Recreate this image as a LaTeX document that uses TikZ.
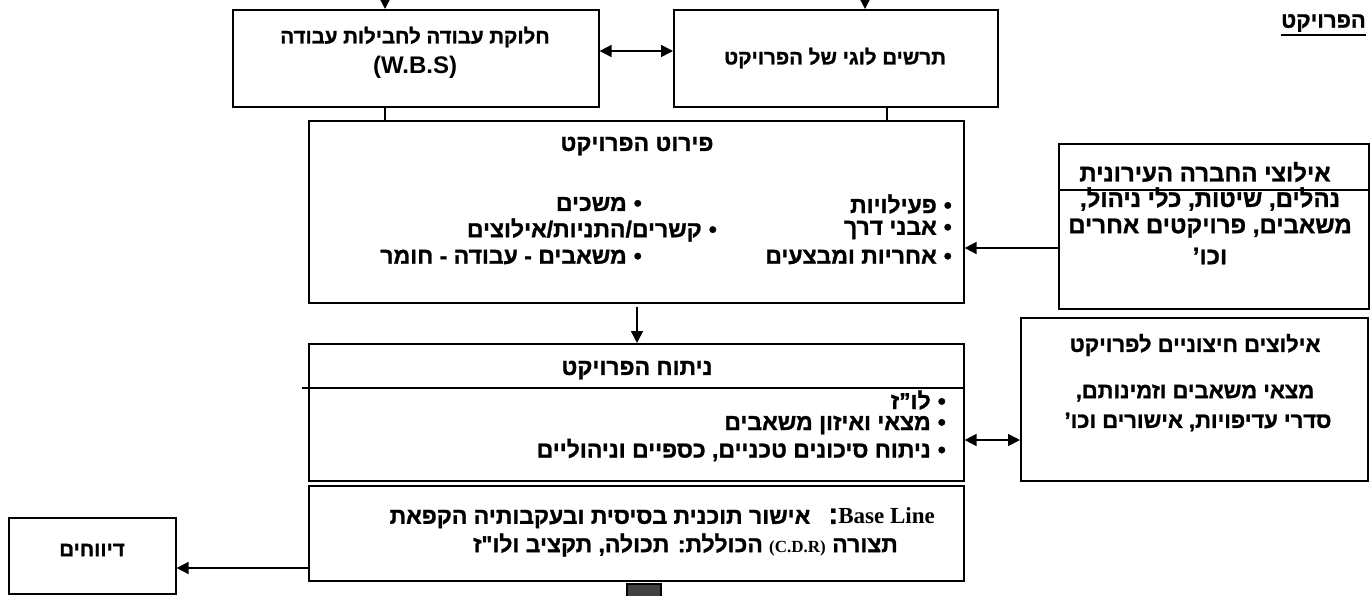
\documentclass[tikz,border=0pt]{standalone}
\usepackage{fontspec}
\setmainfont{Liberation Sans}
\newfontfamily\heb[Script=Hebrew, BoldFeatures={FakeBold=1.2}]{Liberation Sans}
\newfontfamily\tms{Liberation Serif}
\usetikzlibrary{arrows.meta}
\TeXXeTstate=1

\tikzset{
  box/.style={draw, line width=1.6pt, inner sep=0pt, anchor=north west},
  link/.style={line width=1.6pt},
  arr/.style={link, -{Triangle[length=12pt,width=12pt]}},
  darr/.style={link, {Triangle[length=12pt,width=12pt]}-{Triangle[length=12pt,width=12pt]}},
  htxt/.style={font=\heb\bfseries\fontsize{23}{25}\selectfont, inner sep=0pt},
  hmid/.style={font=\heb\bfseries\fontsize{22}{24}\selectfont, inner sep=0pt},
  htop/.style={font=\heb\bfseries\fontsize{20.5}{23}\selectfont, inner sep=0pt},
  hbig/.style={font=\heb\bfseries\fontsize{24}{26}\selectfont, inner sep=0pt},
  item/.style={htxt, anchor=east},
}
\newcommand{\bul}{•\hskip 7pt}

\begin{document}
\begin{tikzpicture}[x=1pt, y=-1pt]
\useasboundingbox (0,0) rectangle (1372,595);

% ---- boxes ----
\node[box, minimum width=366pt, minimum height=97pt] (wbs)   at (232,9)   {};
\node[box, minimum width=324pt, minimum height=97pt] (logic) at (673,9)   {};
\node[box, minimum width=655pt, minimum height=182pt] (det)  at (308,120) {};
\node[box, minimum width=655pt, minimum height=137pt] (ana)  at (308,343) {};
\node[box, minimum width=655pt, minimum height=95pt]  (base) at (308,485) {};
\node[box, minimum width=310pt, minimum height=165pt] (org)  at (1058,143) {};
\node[box, minimum width=347pt, minimum height=163pt] (ext)  at (1020,317) {};
\node[box, minimum width=167pt, minimum height=76pt]  (rep)  at (8,517)   {};
\node[box, minimum width=34pt, minimum height=20pt, fill=black!75] (stub) at (626,583) {};

% ---- title ----
\node[hmid, anchor=east] (ttl) at (1366,23) {\beginR הפרויקט\endR};
\draw[line width=2.6pt] ([yshift=-3pt]ttl.south west) -- ([yshift=-3pt]ttl.south east);

% ---- texts ----
\node[htop] (wbsA) at (415,37) {\beginR חלוקת עבודה לחבילות עבודה\endR};
\node[htop, font=\bfseries\fontsize{24}{26}\selectfont] (wbsB) at (415,67) {(W.B.S)};
\node[htop] (logT) at (835,58) {\beginR תרשים לוגי של הפרויקט\endR};

\node[htxt] (detT) at (637,146) {\beginR פירוט הפרויקט\endR};
\node[item] (d1) at (952,204) {\beginR\bul פעילויות\endR};
\node[item] (d2) at (952,230) {\beginR\bul אבני דרך\endR};
\node[item] (d3) at (952,257) {\beginR\bul אחריות ומבצעים\endR};
\node[item] (d4) at (642,204) {\beginR\bul משכים\endR};
\node[item] (d5) at (717,230) {\beginR\bul קשרים/התניות/אילוצים\endR};
\node[item] (d6) at (642,257) {\beginR\bul משאבים - עבודה - חומר\endR};

\node[htxt] (anaT) at (637,370) {\beginR ניתוח הפרויקט\endR};
\node[item] (a1) at (946,400) {\beginR\bul לו”ז\endR};
\node[item] (a2) at (946,425) {\beginR\bul מצאי ואיזון משאבים\endR};
\node[item] (a3) at (946,450) {\beginR\bul ניתוח סיכונים טכניים, כספיים וניהוליים\endR};

\node[htxt, anchor=east] (baseA) at (935,518) {\beginR\beginL{\tms\bfseries\fontsize{23}{25}\selectfont Base Line}\endL{\fontsize{30}{30}\selectfont :}\hskip 18pt אישור תוכנית בסיסית ובעקבותיה הקפאת\endR};
\node[htxt, anchor=east] (baseB) at (898,545) {\beginR תצורה \beginL{\tms\bfseries\fontsize{17}{19}\selectfont (C.D.R)}\endL{} הכוללת: תכולה, תקציב ולו"ז\endR};

\node[hbig] (orgT) at (1205,172) {\beginR אילוצי החברה העירונית\endR};
\node[hbig] (org1) at (1210,199) {\beginR נהלים, שיטות, כלי ניהול,\endR};
\node[hbig] (org2) at (1210,228) {\beginR משאבים, פרויקטים אחרים\endR};
\node[hbig] (org3) at (1210,256) {\beginR וכו’\endR};

\node[hmid] (extT) at (1195,345) {\beginR אילוצים חיצוניים לפרויקט\endR};
\node[hmid] (ext1) at (1195,393) {\beginR מצאי משאבים וזמינותם,\endR};
\node[hmid] (ext2) at (1198,422) {\beginR סדרי עדיפויות, אישורים וכו’\endR};

\node[htop] (repT) at (92,550) {\beginR דיווחים\endR};

% ---- divider lines inside boxes ----
\coordinate (anaDiv) at (302,388);
\draw[link] (anaDiv) -- (anaDiv -| ana.east);
\coordinate (orgDiv) at (1058,190);
\draw[link] (orgDiv) -- (orgDiv -| org.east);

% ---- connectors ----
\coordinate (inW) at (385,-4);
\coordinate (inL) at (865,-4);
\draw[arr] (inW) -- (inW |- wbs.north);
\draw[arr] (inL) -- (inL |- logic.north);

\coordinate (mid1) at (0,51);
\draw[darr] (wbs.east |- mid1) -- (logic.west |- mid1);

\coordinate (jW) at (385,0);
\coordinate (jL) at (887,0);
\draw[link] (jW |- wbs.south) -- (jW |- det.north);
\draw[link] (jL |- logic.south) -- (jL |- det.north);

\coordinate (dn) at (637,0);
\draw[arr] ([yshift=-3pt]dn |- det.south) -- (dn |- ana.north);

\coordinate (hOrg) at (0,248);
\draw[arr] (org.west |- hOrg) -- (det.east |- hOrg);

\coordinate (hExt) at (0,440);
\draw[darr] (ana.east |- hExt) -- (ext.west |- hExt);

\coordinate (hRep) at (0,568);
\draw[arr] (base.west |- hRep) -- (rep.east |- hRep);
\end{tikzpicture}
\end{document}
